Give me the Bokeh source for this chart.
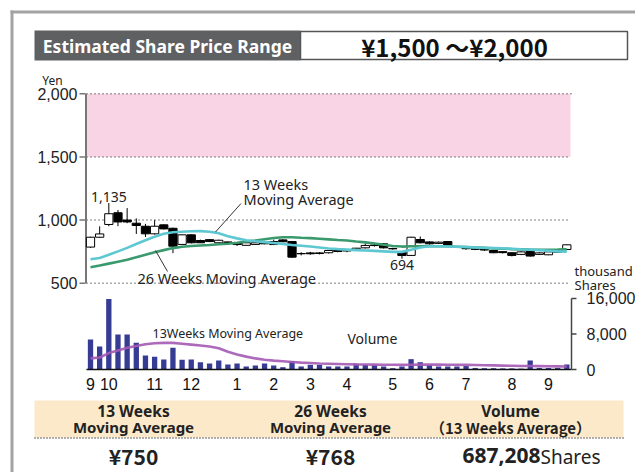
from bokeh.plotting import figure
from bokeh.models import Range1d
from bokeh.core.properties import value
from bokeh.embed import file_html
from bokeh.resources import INLINE

# ---------------- data ----------------
weeks = list(range(53))
opens = [786, 864, 965, 1058, 1000, 975, 951, 891, 962, 935, 807, 883, 838, 845, 820, 826, 820, 800, 807, 830,
         806, 843, 830, 735, 740, 740, 741, 765, 760, 759, 780, 802, 812, 775, 745, 720, 846, 827, 815, 830,
         787, 777, 772, 766, 759, 750, 741, 728, 752, 728, 725, 745, 767]
highs = [868, 950, 1135, 1080, 1095, 1013, 970, 1000, 965, 940, 885, 888, 845, 850, 845, 830, 825, 823, 822, 835,
         845, 848, 835, 745, 748, 745, 762, 770, 765, 780, 815, 820, 818, 780, 750, 868, 870, 832, 830, 832,
         792, 782, 778, 770, 762, 752, 745, 752, 756, 745, 752, 758, 806]
lows = [780, 860, 951, 951, 975, 890, 866, 885, 925, 738, 805, 815, 818, 825, 815, 815, 795, 798, 803, 808,
        804, 825, 700, 720, 725, 728, 735, 745, 745, 755, 775, 790, 775, 765, 694, 715, 815, 805, 810, 795,
        778, 765, 762, 755, 738, 735, 712, 722, 710, 724, 722, 740, 762]
closes = [864, 890, 1050, 985, 985, 957, 891, 951, 930, 793, 883, 820, 820, 830, 840, 824, 806, 820, 820, 812,
          830, 828, 706, 733, 733, 735, 759, 751, 755, 777, 799, 798, 780, 772, 719, 864, 820, 812, 825, 799,
          785, 773, 768, 763, 741, 742, 720, 748, 715, 740, 748, 755, 804]
ma13 = [690, 700, 725, 752, 780, 810, 840, 868, 892, 903, 908, 911, 912, 908, 895, 872, 855, 840, 832, 825,
        818, 811, 803, 797, 790, 783, 775, 770, 766, 762, 759, 756, 752, 748, 748, 765, 782, 792, 793, 791,
        789, 787, 784, 781, 779, 777, 773, 769, 766, 762, 757, 752, 750]
ma26 = [627, 640, 655, 670, 685, 705, 725, 745, 762, 778, 788, 794, 799, 803, 808, 812, 820, 830, 838, 848,
        858, 864, 864, 860, 857, 852, 847, 842, 838, 830, 823, 815, 805, 795, 790, 792, 793, 794, 793, 792,
        789, 786, 783, 780, 776, 773, 770, 768, 766, 765, 765, 766, 768]
volume = [6760, 5180, 15900, 7900, 7900, 6000, 3150, 2850, 2250, 4900, 2200, 2250, 1650, 1350, 2000, 1130, 1350,
          680, 900, 1350, 900, 520, 1870, 680, 1050, 1050, 680, 680, 680, 1280, 1050, 1050, 680, 300, 680,
          2330, 1650, 1050, 680, 680, 680, 800, 350, 300, 300, 250, 250, 200, 2030, 350, 350, 350, 1130]
volume_ma13 = [2500, 2700, 3700, 4300, 4900, 5300, 5700, 5900, 6000, 6000, 5800, 5600, 5400, 5200, 4800, 4000,
               3400, 2900, 2500, 2200, 2000, 1850, 1700, 1550, 1450, 1350, 1300, 1250, 1200, 1150, 1120, 1100,
               1080, 1060, 1050, 1080, 1100, 1100, 1100, 1080, 1060, 1040, 1000, 960, 920, 880, 840, 800, 790,
               760, 730, 710, 690]
month_labels = ["9", "10", "11", "12", "1", "2", "3", "4", "5", "6", "7", "8", "9"]
month_weeks = [0, 2, 7, 11, 16, 20, 24, 28, 33, 37, 41, 46, 50]
price_ticks = [500, 1000, 1500, 2000]
price_tick_labels = ["500", "1,000", "1,500", "2,000"]
vol_ticks = [0, 8000, 16000]
vol_tick_labels = ["0", "8,000", "16,000"]
range_low, range_high = 1500, 2000
summary_heads = [["13 Weeks", "Moving Average"], ["26 Weeks", "Moving Average"], ["Volume", "（13 Weeks Average）"]]
summary_values = ["¥750", "¥768", "687,208"]

# ---------------- figure ----------------
W, H = 635, 472
p = figure(width=W, height=H, output_backend="svg", toolbar_location=None,
           x_axis_type=None, y_axis_type=None,
           x_range=Range1d(-90 / 9.16, 545 / 9.16), y_range=Range1d(-999.2, 2738.8),
           min_border=0, outline_line_color=None, background_fill_color="white",
           border_fill_color="white")
p.grid.visible = False
p.extra_x_ranges = {"px": Range1d(0, 635)}
p.extra_y_ranges = {"px": Range1d(472, 0), "vol": Range1d(-103 * 225.35, 369 * 225.35)}

NS = value("Noto Sans")
LS = value("Liberation Sans")
CJK = value("Noto Sans CJK JP")

# outer frame
p.segment(x0=[10, 11.5], y0=[11.5, 10], x1=[635, 11.5], y1=[11.5, 472], x_range_name="px", y_range_name="px",
          line_color="#a3a3a3", line_width=3)

# header
p.quad(left=[34], right=[300], top=[30], bottom=[60], x_range_name="px", y_range_name="px",
       fill_color="#5f6062", line_color=None)
p.quad(left=[300], right=[627], top=[31], bottom=[59], x_range_name="px", y_range_name="px",
       fill_color="white", line_color="#555555", line_width=1.5)
p.text(x=[167], y=[45.5], text=["Estimated Share Price Range"], x_range_name="px", y_range_name="px",
       text_font=NS, text_font_style="bold", text_font_size="17.5px", text_color="white",
       text_align="center", text_baseline="middle")
p.text(x=[454], y=[46], text=["¥1,500 ～¥2,000"], x_range_name="px", y_range_name="px",
       text_font=CJK, text_font_style="bold", text_font_size="24px", text_color="#111111",
       text_align="center", text_baseline="middle")

# price area
p.quad(left=[86], right=[570], bottom=[range_low], top=[range_high], x_range_name="px",
       fill_color="#f9d4e4", line_color=None)
p.segment(x0=[86] * 4, x1=[570, 570, 570, 573], y0=price_ticks, y1=price_ticks, x_range_name="px",
          line_color="#555555", line_width=1.5, line_dash="1 3")
p.segment(x0=[85.5], x1=[85.5], y0=[500], y1=[2000], x_range_name="px", line_color="#777777", line_width=2)
p.segment(x0=[79] * 4, x1=[85] * 4, y0=price_ticks, y1=price_ticks, x_range_name="px",
          line_color="#777777", line_width=1.5)
p.text(x=[77] * 4, y=price_ticks, text=price_tick_labels, x_range_name="px",
       text_font=LS, text_font_size="16px", text_color="#222222", text_align="right", text_baseline="middle")
p.text(x=[52], y=[80], text=["Yen"], x_range_name="px", y_range_name="px",
       text_font=NS, text_font_size="12px", text_color="#222222", text_align="center", text_baseline="middle")

# candles
p.segment(x0=weeks, x1=weeks, y0=lows, y1=highs, line_color="black", line_width=1)
tops = [max(o, c) for o, c in zip(opens, closes)]
bots = [min(o, c) for o, c in zip(opens, closes)]
fills = ["white" if c >= o else "black" for o, c in zip(opens, closes)]
p.vbar(x=weeks, width=0.9, top=tops, bottom=bots, fill_color=fills, line_color="black", line_width=1)

# moving averages
p.line(weeks, ma26, line_color="#3a9a6e", line_width=2.6)
p.line(weeks, ma13, line_color="#5ec8d2", line_width=2.6)

# price annotations
p.text(x=[2], y=[1135], text=["1,135"], text_font=NS, text_font_size="14px", text_color="#222222",
       text_align="center", text_baseline="bottom", y_offset=-1)
p.text(x=[34], y=[694], text=["694"], text_font=NS, text_font_size="14px", text_color="#222222",
       text_align="center", text_baseline="top", y_offset=1)
p.text(x=[243, 243], y=[183, 198.5], text=["13 Weeks", "Moving Average"], x_range_name="px", y_range_name="px",
       text_font=NS, text_font_size="14.5px", text_color="#222222", text_align="left", text_baseline="middle")
p.segment(x0=[240.5], y0=[203], x1=[215], y1=[231.5], x_range_name="px", y_range_name="px",
          line_color="#333333", line_width=1)
p.text(x=[137], y=[277], text=["26 Weeks Moving Average"], x_range_name="px", y_range_name="px",
       text_font=NS, text_font_size="14.5px", text_color="#222222", text_align="left", text_baseline="middle")
p.segment(x0=[155], y0=[250], x1=[167], y1=[271], x_range_name="px", y_range_name="px",
          line_color="#333333", line_width=1)

# volume area
p.vbar(x=weeks, width=0.58, top=volume, bottom=0, y_range_name="vol", fill_color="#363c94", line_color=None)
p.line(weeks, volume_ma13, y_range_name="vol", line_color="#a45ab4", line_width=2.6, line_alpha=0.9)
p.segment(x0=[86], x1=[571], y0=[0], y1=[0], x_range_name="px", y_range_name="vol",
          line_color="#111111", line_width=1.5)
p.segment(x0=[571], x1=[571], y0=[0], y1=[16000], x_range_name="px", y_range_name="vol",
          line_color="#444444", line_width=1.5)
p.segment(x0=[571] * 3, x1=[576] * 3, y0=vol_ticks, y1=vol_ticks, x_range_name="px", y_range_name="vol",
          line_color="#444444", line_width=1.5)
p.text(x=[586] * 3, y=vol_ticks, text=vol_tick_labels, x_range_name="px", y_range_name="vol",
       text_font=LS, text_font_size="16px", text_color="#222222", text_align="left", text_baseline="middle")
p.text(x=[574, 574], y=[270, 284], text=["thousand", "Shares"], x_range_name="px", y_range_name="px",
       text_font=NS, text_font_size="13px", text_color="#222222", text_align="left", text_baseline="middle")
p.text(x=[152], y=[333], text=["13Weeks Moving Average"], x_range_name="px", y_range_name="px",
       text_font=NS, text_font_size="12.5px", text_color="#222222", text_align="left", text_baseline="middle")
p.text(x=[347], y=[338], text=["Volume"], x_range_name="px", y_range_name="px",
       text_font=NS, text_font_size="14px", text_color="#222222", text_align="left", text_baseline="middle")

# month labels
p.text(x=month_weeks, y=[383.5] * len(month_weeks), text=month_labels, y_range_name="px",
       text_font=LS, text_font_size="16px", text_color="#111111", text_align="center", text_baseline="middle")

# summary table
p.quad(left=[34], right=[623], top=[400], bottom=[437], x_range_name="px", y_range_name="px",
       fill_color="#fce9c9", line_color=None)
p.segment(x0=[34], x1=[623], y0=[437.5], y1=[437.5], x_range_name="px", y_range_name="px",
          line_color="#333333", line_width=1.6, line_dash="1 2")
cols = [133, 330, 510]
for cx, (h1, h2) in zip(cols, summary_heads):
    p.text(x=[cx], y=[410], text=[h1], x_range_name="px", y_range_name="px", text_font=NS,
           text_font_style="bold", text_font_size="15.5px", text_color="#222222",
           text_align="center", text_baseline="middle")
    p.text(x=[cx], y=[426.5], text=[h2], x_range_name="px", y_range_name="px",
           text_font=CJK if "（" in h2 else NS, text_font_style="bold", text_font_size="15px",
           text_color="#222222", text_align="center", text_baseline="middle")
p.text(x=cols[:2], y=[455, 455], text=summary_values[:2], x_range_name="px", y_range_name="px",
       text_font=CJK, text_font_style="bold", text_font_size="21px", text_color="#222222",
       text_align="center", text_baseline="middle")
p.text(x=[540], y=[455], text=[summary_values[2]], x_range_name="px", y_range_name="px",
       text_font=NS, text_font_style="bold", text_font_size="21px", text_color="#222222",
       text_align="right", text_baseline="middle")
p.text(x=[540], y=[456], text=["Shares"], x_range_name="px", y_range_name="px",
       text_font=NS, text_font_size="19px", text_color="#222222",
       text_align="left", text_baseline="middle")

open("out.html", "w").write(file_html(p, INLINE))
